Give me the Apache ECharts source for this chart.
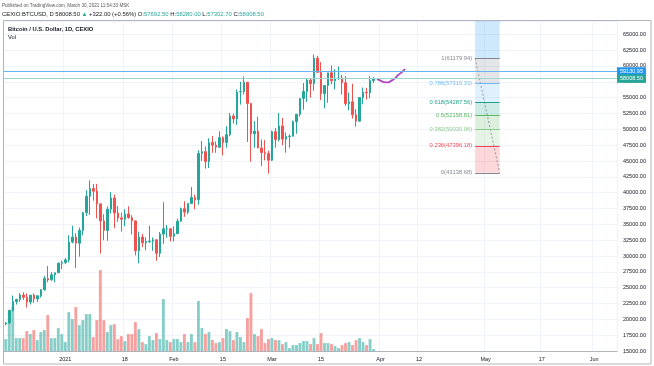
<!DOCTYPE html>
<html><head><meta charset="utf-8">
<script src="https://cdn.jsdelivr.net/npm/echarts@6/dist/echarts.min.js"></script>
<style>html,body{margin:0;padding:0;background:#fff}#c{width:654px;height:366px}</style>
</head><body><div id="c"></div>
<script>
// ---------- data ----------
const startDate = '2020-12-15';
const dayCount = 175;
// daily candles from 2020-12-15 to 2021-03-30: [open, high, low, close]
const candles = [
[19275,19570,19050,19440],[19440,21560,19300,21380],[21380,23770,21240,22830],[22830,23280,22350,23130],
[23130,24170,22780,23850],[23850,24290,23080,23480],[23480,24100,21870,22740],[22740,23840,22370,23820],
[23820,24100,22630,23240],[23240,23800,22760,23730],[23730,24780,23440,24690],[24690,26860,24510,26440],
[26440,28420,25870,26250],[26250,27490,26100,27040],[27040,27380,25860,27360],[27360,28980,27330,28880],
[28880,29320,27950,28990],[28990,29680,28720,29400],[29400,33300,29000,32200],[32200,34790,32000,33000],
[33000,33600,28130,32030],[32030,34500,29900,34050],[34050,36940,33300,36860],[36860,40400,36300,39440],
[39440,41950,36500,40670],[40670,41360,38720,40240],[40240,41400,35950,38240],[38240,38260,30400,35550],
[35550,36600,32500,34050],[34050,37850,32400,37400],[37400,40100,36700,39160],[39160,39700,34400,36800],
[36800,37900,35400,36020],[36020,36850,33850,35820],[35820,37400,34700,36640],[36640,37850,35900,36060],
[36060,36450,33400,35550],[35550,35600,30100,30830],[30830,33850,28850,33000],[33000,33500,31400,32100],
[32100,32950,30900,32290],[32290,34800,32100,32370],[32370,32940,30830,32570],[32570,32600,29250,30430],
[30430,33800,29850,33470],[33470,38500,31950,34300],[34300,34900,32900,34320],[34320,34330,32300,33110],
[33110,34700,32300,33540],[33540,35900,33450,35510],[35510,37650,35400,37470],[37470,38650,36200,36930],
[36930,38300,36600,38290],[38290,40900,38200,39260],[39260,39700,37400,38900],[38900,46700,38100,46200],
[46200,48150,45000,46480],[46480,47300,43800,44920],[44920,48600,43900,47910],[47910,48950,46300,47500],
[47500,48100,46300,47190],[47190,49700,47100,48680],[48680,48900,45900,47940],[47940,50500,47100,49160],
[49160,52600,48900,52120],[52120,52500,50900,51640],[51640,56300,50700,55900],[55900,57500,53900,55950],
[55950,58350,55500,57410],[57410,57500,48000,54090],[54090,54100,44900,49300],[49300,51300,47100,49710],
[49710,52000,47000,47060],[47060,48400,44200,46340],[46340,48300,45100,46190],[46190,46600,43000,45130],
[45130,49800,45000,49630],[49630,50200,47100,48380],[48380,52600,48100,50540],[50540,51800,47500,48450],
[48450,49500,46300,48880],[48880,49200,47100,48920],[48920,51400,48900,51210],[51210,52400,49300,52380],
[52380,54900,52000,54880],[54880,57300,53100,55960],[55960,58100,54300,57780],[57780,58000,55000,57230],
[57230,61800,56100,61230],[61230,61600,59000,59000],[59000,60600,54600,55640],[55640,56900,53300,56930],
[56930,58900,54200,58920],[58920,60100,57100,57650],[57650,59500,56300,58030],[58030,59900,57800,58100],
[58100,58600,55500,57350],[57350,58400,53700,54080],[54080,55800,53000,54340],[54340,57200,51700,52300],
[52300,53200,50400,51290],[51290,55100,51200,55030],[55030,56600,53950,55860],[55860,56550,54700,55780],
[55780,58400,54900,57692.5],[57692.5,58280,57302.7,58008.5]
];
// daily volume (arbitrary units)
const volumes = [
12,41,44,13,13,13,20,17,21,11,19,21,36,13,13,23,17,9,39,32,44,26,31,37,37,14,31,81,31,19,26,27,12,15,10,17,17,29,
22,9,7,15,11,18,12,52,11,9,12,12,9,17,9,17,9,50,23,17,19,11,8,9,13,22,20,11,19,14,9,33,58,17,
15,22,8,12,13,11,11,7,9,3,6,6,8,10,10,7,13,7,18,8,8,7,5,3,6,8,9,6,11,13,9,6,12,2
];
// hand-drawn projection path, 2021-03-31 .. 2021-04-08
const projectionStart = '2021-03-31';
const projection = [57950,57680,57450,57400,57650,58000,58550,59000,59500];
// price axis
const priceMin = 15000, priceMax = 67099, priceStep = 2500;
// time axis labels
const timeLabels = {'2021-01-01':'2021','2021-01-18':'18','2021-02-01':'Feb','2021-02-15':'15','2021-03-01':'Mar',
  '2021-03-15':'15','2021-04-01':'Apr','2021-04-12':'12','2021-05-01':'May','2021-05-17':'17','2021-06-01':'Jun'};
// fibonacci retracement
const fibStart = '2021-04-28', fibEnd = '2021-05-05';
const fibLevels = [0, 0.236, 0.382, 0.5, 0.618, 0.786, 1];
const fibPrices = [43138.68, 47396.18, 50030.06, 52158.81, 54287.56, 57316.33, 61179.94];
const fibColors = ['#787b86','#f23645','#81c784','#4caf50','#089981','#64b5f6','#787b86'];
const fibTopColor = 'rgba(33,150,243,0.22)';
// horizontal lines
const hLinePrice = 59130.95;
const lastPrice = 58008.50;

// ---------- build ----------
const dates = [];
{
  const d0 = new Date(startDate + 'T00:00:00Z');
  for (let i = 0; i < dayCount; i++) {
    const d = new Date(d0.getTime() + i * 86400000);
    dates.push(d.toISOString().slice(0, 10));
  }
}
const UP = '#26a69a', DOWN = '#ef5350';
const kData = candles.map(c => [c[0], c[3], c[2], c[1]]);
const volData = volumes.map((v, i) => ({
  value: v,
  itemStyle: { color: candles[i][3] >= candles[i][0] ? 'rgba(38,166,154,0.55)' : 'rgba(239,83,80,0.55)' }
}));
const pIdx = dates.indexOf(projectionStart);
const projData = dates.map((d, i) => (i >= pIdx && i < pIdx + projection.length) ? projection[i - pIdx] : null);

const fibAreas = [];
for (let k = 1; k < fibPrices.length; k++) {
  fibAreas.push([{ coord: [fibStart, fibPrices[k - 1]], itemStyle: { color: fibColors[k], opacity: 0.2 } },
                 { coord: [fibEnd, fibPrices[k]] }]);
}
fibAreas.push([{ coord: [fibStart, fibPrices[fibPrices.length - 1]], itemStyle: { color: fibTopColor, opacity: 1 } },
               { coord: [fibEnd, priceMax] }]);
const fibLines = fibPrices.map((p, k) => [
  { coord: [fibStart, p], lineStyle: { color: fibColors[k], width: 1, type: 'solid', opacity: 0.9 },
    label: { show: true, position: 'start', distance: 3, formatter: fibLevels[k] + '(' + p.toFixed(2) + ')',
      color: fibColors[k], fontSize: 5.8, fontFamily: 'Liberation Sans' } },
  { coord: [fibEnd, p] }
]);

const FONT = 'Liberation Sans';
const chart = echarts.init(document.getElementById('c'), null, { renderer: 'canvas' });
const isLabel = (idx, val) => timeLabels[val] !== undefined;

chart.setOption({
  animation: false,
  backgroundColor: '#ffffff',
  grid: { left: 4, right: 37, top: 21, bottom: 14.9, containLabel: false },
  xAxis: {
    type: 'category', data: dates, boundaryGap: true,
    axisLine: { show: true, lineStyle: { color: '#b2b5be', width: 1 } },
    axisTick: { show: false },
    axisLabel: { interval: isLabel, formatter: v => timeLabels[v] || '', fontSize: 5.5, color: '#131722',
      fontFamily: FONT, margin: 5 },
    splitLine: { show: true, interval: isLabel, lineStyle: { color: '#f0f3fa', width: 1 } }
  },
  yAxis: [{
    type: 'value', position: 'right', min: priceMin, max: priceMax, interval: priceStep,
    axisLine: { show: false }, axisTick: { show: false },
    axisLabel: { formatter: v => (v % priceStep === 0 ? v.toFixed(2) : ''), fontSize: 5.5, color: '#131722',
      fontFamily: FONT, margin: 6 },
    splitLine: { show: true, lineStyle: { color: '#f0f3fa', width: 1 } }
  }, {
    type: 'value', min: 0, max: 330, show: false, splitLine: { show: false }
  }],
  series: [{
    type: 'bar', yAxisIndex: 1, data: volData, barWidth: '82%', z: 1, silent: true
  }, {
    type: 'candlestick', data: kData, barWidth: 2, z: 3,
    itemStyle: { color: UP, color0: DOWN, borderColor: UP, borderColor0: DOWN, borderWidth: 1 },
    markLine: {
      symbol: 'none', silent: true, animation: false,
      data: [
        { yAxis: hLinePrice, lineStyle: { color: '#64b5f6', width: 1, type: 'solid' },
          label: { show: true, position: 'end', distance: 0, formatter: hLinePrice.toFixed(2), color: '#fff',
            backgroundColor: '#2196f3', padding: [1.5, 3, 1, 3], fontSize: 5.5, fontFamily: FONT } },
        { yAxis: lastPrice, lineStyle: { color: '#9ed7d1', width: 1, type: 'solid' },
          label: { show: true, position: 'end', distance: 0, formatter: lastPrice.toFixed(2), color: '#fff',
            backgroundColor: '#26a69a', padding: [1.5, 3, 1, 3], fontSize: 5.5, fontFamily: FONT } }
      ]
    }
  }, {
    type: 'line', data: projData, smooth: true, showSymbol: false, connectNulls: false, z: 4,
    lineStyle: { color: '#ab47bc', width: 1.8 }
  }, {
    type: 'line', z: 2, showSymbol: false, silent: true,
    data: [[fibStart, fibPrices[fibPrices.length - 1]], [fibEnd, fibPrices[0]]],
    lineStyle: { color: '#9598a1', width: 1, type: [2, 2] },
    markArea: { silent: true, data: fibAreas },
    markLine: { symbol: 'none', silent: true, data: fibLines }
  }],
  graphic: [
    { type: 'rect', shape: { x: 3.5, y: 20.5, width: 647.5, height: 343.5 }, style: { fill: 'none', stroke: '#b2b5be', lineWidth: 1 }, z: 100 },
    { type: 'text', x: 2, y: 3, style: { text: 'Published on TradingView.com, March 30, 2021 11:54:33 MSK', fontSize: 4.6, fontFamily: FONT, fill: '#555' }, z: 100 },
    { type: 'text', x: 2, y: 11, z: 100, style: {
      text: '{k|CEXIO:BTCUSD, D }{k|58008.50 }{g|▲ }{k|+322.00 (+0.56%) O:}{g|57692.50 }{k|H:}{g|58280.00 }{k|L:}{g|57302.70 }{k|C:}{g|58008.50}',
      rich: { k: { fontSize: 5.9, fontFamily: FONT, fill: '#131722' }, g: { fontSize: 5.9, fontFamily: FONT, fill: '#26a69a' } } } },
    { type: 'text', x: 8, y: 26, style: { text: 'Bitcoin / U.S. Dollar, 1D, CEXIO', fontSize: 5.8, fontWeight: 'bold', fontFamily: FONT, fill: '#131722' }, z: 100 },
    { type: 'text', x: 8, y: 34.5, style: { text: 'Vol', fontSize: 5.8, fontFamily: FONT, fill: '#131722' }, z: 100 }
  ]
});
</script></body></html>
